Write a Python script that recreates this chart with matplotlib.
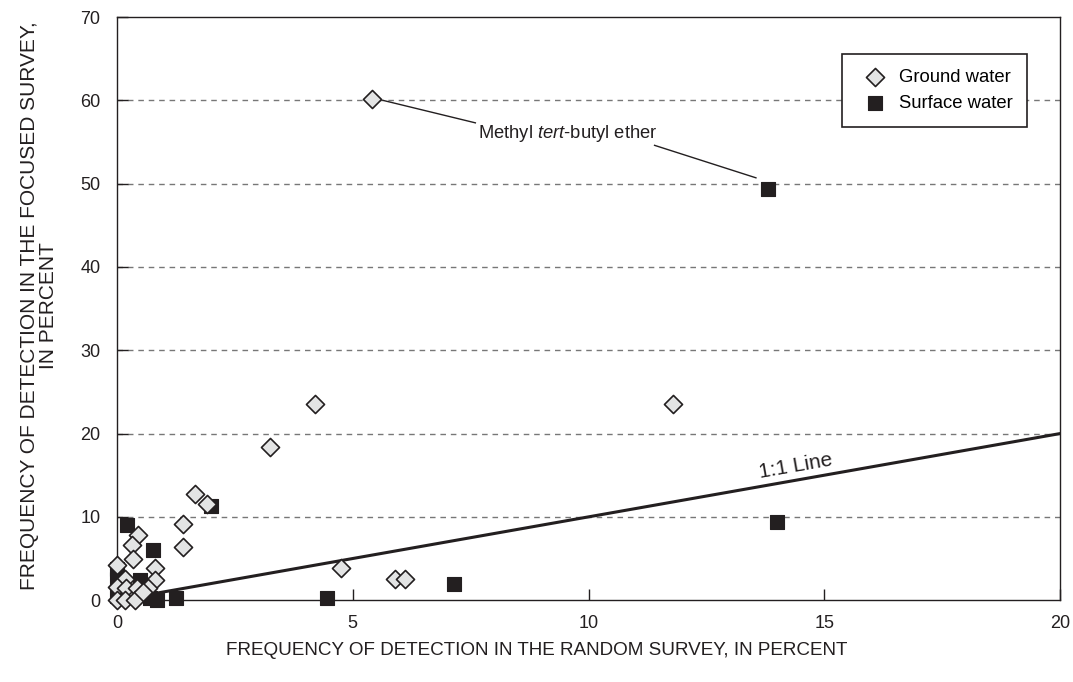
import matplotlib
matplotlib.use("Agg")
import matplotlib.pyplot as plt

# Ground water (random survey %, focused survey %)
gw_x = [5.4, 4.2, 11.8, 3.25, 1.4, 1.4, 1.65, 1.9, 4.75, 5.9, 6.1,
        0.45, 0.32, 0.34, 0.0, 0.8, 0.17, 0.8, 0.0, 0.2, 0.42, 0.66,
        0.0, 0.17, 0.38, 0.55]
gw_y = [60.2, 23.6, 23.6, 18.4, 9.2, 6.4, 12.7, 11.6, 3.9, 2.5, 2.5,
        7.8, 6.6, 5.0, 4.2, 3.9, 2.6, 2.4, 1.6, 1.4, 1.4, 1.4,
        0.0, 0.0, 0.0, 1.0]
# Surface water
sw_x = [13.8, 14.0, 7.15, 4.45, 2.0, 0.21, 0.76, 0.0, 0.49, 0.0,
        0.0, 0.7, 0.85, 1.25, 0.5]
sw_y = [49.4, 9.4, 1.9, 0.2, 11.3, 9.0, 6.0, 3.8, 2.4, 2.6,
        0.5, 0.3, 0.0, 0.2, 1.0]

line_x = [0, 20]
line_y = [0, 20]

x_ticks = [0, 5, 10, 15, 20]
y_ticks = [0, 10, 20, 30, 40, 50, 60, 70]

plt.rcParams['font.family'] = ['Liberation Sans', 'DejaVu Sans']
plt.rcParams['mathtext.fontset'] = 'custom'
plt.rcParams['mathtext.rm'] = 'Liberation Sans'
plt.rcParams['mathtext.it'] = 'Liberation Sans:italic'

INK = '#231f20'

fig = plt.figure(figsize=(10.73, 6.82), dpi=100)
ax = fig.add_axes([0.109, 0.12, 0.879, 0.855])
ax.set_xlim(0, 20)
ax.set_ylim(0, 70)

for yv in y_ticks[1:-1]:
    ax.axhline(yv, color='#777777', lw=1.0, ls=(0, (4, 3.5)), zorder=1)

ax.plot(line_x, line_y, color=INK, lw=2.2, zorder=2)

ax.scatter(sw_x, sw_y, marker='s', s=10.5**2, facecolor=INK,
           edgecolor=INK, linewidths=0.8, zorder=3, clip_on=False,
           label='Surface water')
ax.scatter(gw_x, gw_y, marker='D', s=9.2**2, facecolor='#e3e4e4',
           edgecolor=INK, linewidths=1.2, zorder=4, clip_on=False,
           label='Ground water')

ax.text(14.4, 16.1, '1:1 Line', rotation=9.9, fontsize=15,
        ha='center', va='center', color=INK, rotation_mode='anchor')

ax.text(7.65, 56.0, r'Methyl $\mathit{tert}$-butyl ether', fontsize=13.2,
        ha='left', va='center', color=INK)
ax.plot([5.64, 7.6], [60.0, 57.3], color=INK, lw=1.0, zorder=2)
ax.plot([11.4, 13.55], [54.6, 50.7], color=INK, lw=1.0, zorder=2)

ax.set_xticks(x_ticks)
ax.set_yticks(y_ticks)
ax.tick_params(direction='in', length=8, width=1, labelsize=13,
               colors=INK)
ax.tick_params(axis='x', pad=11)
ax.tick_params(axis='y', pad=12)
for sp in ax.spines.values():
    sp.set_linewidth(1.0)
    sp.set_color(INK)

ax.set_xlabel('FREQUENCY OF DETECTION IN THE RANDOM SURVEY, IN PERCENT',
              fontsize=13.6, color=INK)
ax.xaxis.set_label_coords(0.445, -0.071)
ax.set_ylabel('FREQUENCY OF DETECTION IN THE FOCUSED SURVEY,\nIN PERCENT',
              fontsize=15, color=INK, linespacing=1.05)
ax.yaxis.set_label_coords(-0.062, 0.505)

h, l = ax.get_legend_handles_labels()
leg = ax.legend([h[1], h[0]], [l[1], l[0]], loc='upper right',
                bbox_to_anchor=(0.975, 0.952), fontsize=13.3, frameon=True,
                fancybox=False, edgecolor=INK, framealpha=1,
                borderpad=0.8, handletextpad=0.3, labelspacing=0.5,
                scatterpoints=1)
leg.get_frame().set_linewidth(1.2)

fig.savefig('out.png', dpi=100)
